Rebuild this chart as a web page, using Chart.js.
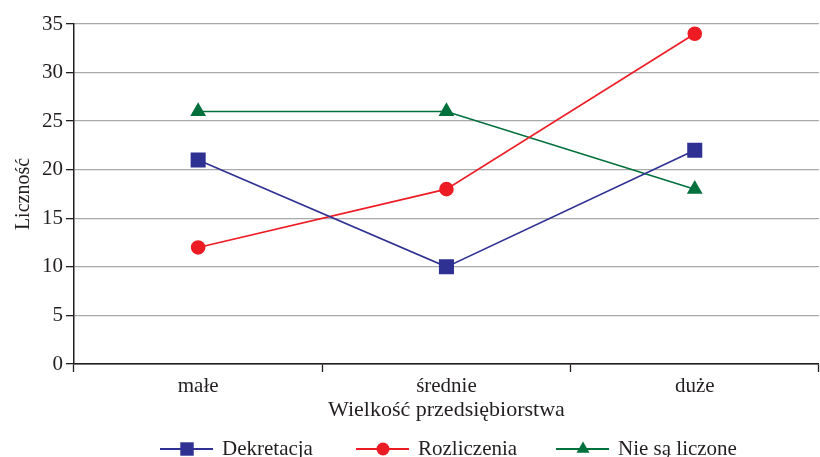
<!DOCTYPE html>
<html>
<head>
<meta charset="utf-8">
<script src="https://cdn.jsdelivr.net/npm/chart.js@4/dist/chart.umd.min.js"></script>
<style>
  html, body { margin: 0; padding: 0; background: #fff; overflow: hidden; }
  canvas { display: block; }
</style>
</head>
<body>
<canvas id="chart" width="830" height="457"></canvas>
<script>
const categories = ["małe", "średnie", "duże"];
const dekretacja = [21, 10, 22];
const rozliczenia = [12, 18, 34];
const nieLiczone = [26, 26, 18];
const seriesNames = ["Dekretacja", "Rozliczenia", "Nie są liczone"];

const FONT = "'Liberation Serif', 'Times New Roman', serif";
const INK = "#231f20";

// legend row along the bottom: short line with the marker in its middle
const bottomLegend = {
  id: "bottomLegend",
  afterDraw(chart) {
    const ctx = chart.ctx;
    const y = 449;
    const starts = [160, 356, 556];
    ctx.save();
    chart.data.datasets.forEach((ds, i) => {
      const x0 = starts[i];
      ctx.strokeStyle = ds.borderColor;
      ctx.lineWidth = 2;
      ctx.beginPath();
      ctx.moveTo(x0, y);
      ctx.lineTo(x0 + 53, y);
      ctx.stroke();
      ctx.fillStyle = ds.pointBackgroundColor;
      Chart.helpers.drawPoint(ctx, {
        pointStyle: ds.pointStyle,
        radius: ds.pointRadius,
        borderWidth: 0
      }, x0 + 27, y);
      ctx.fillStyle = INK;
      ctx.font = "21px " + FONT;
      ctx.textBaseline = "middle";
      ctx.textAlign = "left";
      ctx.fillText(ds.label, x0 + 62, y);
    });
    ctx.restore();
  }
};

new Chart(document.getElementById("chart"), {
  type: "line",
  data: {
    labels: categories,
    datasets: [
      {
        label: seriesNames[0],
        data: dekretacja,
        borderColor: "#2e3192",
        pointBackgroundColor: "#2e3192",
        pointBorderColor: "#2e3192",
        pointStyle: "rect",
        pointRadius: 9.5,
        borderWidth: 1.6
      },
      {
        label: seriesNames[1],
        data: rozliczenia,
        borderColor: "#ed1c24",
        pointBackgroundColor: "#ed1c24",
        pointBorderColor: "#ed1c24",
        pointStyle: "circle",
        pointRadius: 6.5,
        borderWidth: 1.6
      },
      {
        label: seriesNames[2],
        data: nieLiczone,
        borderColor: "#00703c",
        pointBackgroundColor: "#00703c",
        pointBorderColor: "#00703c",
        pointStyle: "triangle",
        pointRadius: 7.5,
        borderWidth: 1.6
      }
    ]
  },
  options: {
    responsive: false,
    animation: false,
    layout: { padding: { top: 24, right: 0, bottom: 0, left: 0 } },
    plugins: {
      legend: { display: false },
      tooltip: { enabled: false }
    },
    scales: {
      x: {
        offset: true,
        afterFit: (scale) => { scale.height = 93; },
        grid: {
          offset: true,
          drawOnChartArea: false,
          tickLength: 8,
          tickColor: INK,
          tickWidth: 1.3
        },
        border: { color: INK, width: 1.5 },
        ticks: { color: INK, font: { family: FONT, size: 21 }, padding: 2 },
        title: {
          display: true,
          text: "Wielkość przedsiębiorstwa",
          color: INK,
          font: { family: FONT, size: 22 },
          padding: { top: 34, bottom: 34 }
        }
      },
      y: {
        min: 0,
        max: 35,
        afterFit: (scale) => { scale.width = 74; },
        ticks: { stepSize: 5, color: INK, font: { family: FONT, size: 21 }, padding: 3 },
        grid: {
          color: (c) => (c.tick && c.tick.value === 0 ? INK : "#a7a9ac"),
          lineWidth: 1.3,
          tickLength: 8,
          tickColor: INK
        },
        border: { color: INK, width: 1.5 },
        title: {
          display: true,
          text: "Liczność",
          color: INK,
          font: { family: FONT, size: 20 },
          padding: { top: 12, bottom: 0 }
        }
      }
    }
  },
  plugins: [bottomLegend]
});
</script>
</body>
</html>
